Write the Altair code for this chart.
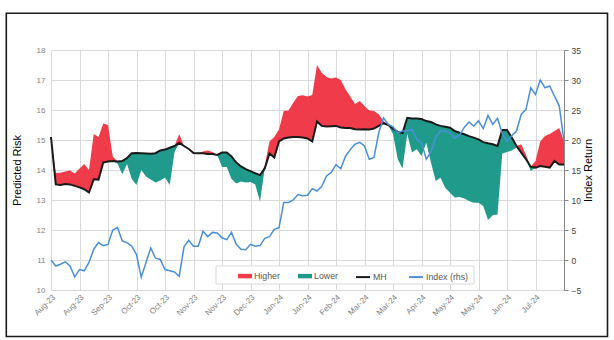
import json
import altair as alt
import pandas as pd

labels = ["Aug-23", "Aug-23", "Sep-23", "Oct-23", "Oct-23", "Nov-23", "Nov-23", "Dec-23",
          "Jan-24", "Jan-24", "Feb-24", "Mar-24", "Mar-24", "Apr-24", "May-24", "May-24",
          "Jun-24", "Jul-24"]

mh = [15.10, 13.52, 13.50, 13.53, 13.52, 13.47, 13.42, 13.36, 13.25, 13.69, 13.68, 14.25, 14.28, 14.30,
      14.28, 14.30, 14.40, 14.56, 14.57, 14.56, 14.55, 14.54, 14.56, 14.65, 14.68, 14.74, 14.80, 14.90,
      14.80, 14.70, 14.57, 14.56, 14.56, 14.53, 14.53, 14.50, 14.58, 14.58, 14.45, 14.25, 14.12, 14.03,
      13.96, 13.89, 13.83, 14.05, 14.55, 14.42, 14.95, 15.05, 15.08, 15.10, 15.10, 15.08, 15.05,
      14.95, 15.62, 15.47, 15.45, 15.46, 15.47, 15.42, 15.40, 15.40, 15.36, 15.35, 15.36, 15.35, 15.38,
      15.47, 15.56, 15.50, 15.38, 15.27, 15.23, 15.74, 15.72, 15.72, 15.70, 15.63, 15.60, 15.52,
      15.47, 15.44, 15.41, 15.30, 15.24, 15.19, 15.13, 15.08, 15.02, 14.93, 14.89, 14.86, 14.80, 15.33,
      15.33, 15.08, 14.80, 14.58, 14.36, 14.11, 14.08, 14.13, 14.11, 14.08, 14.30, 14.18, 14.18]

pred = [15.10, 13.90, 13.91, 13.95, 13.98, 13.88, 14.05, 14.20, 14.00, 15.20, 15.10, 15.55, 15.50, 14.45,
        14.22, 13.86, 14.20, 13.70, 13.50, 14.00, 13.78, 13.68, 13.58, 13.65, 13.75, 13.50, 14.60, 15.20,
        14.78, 14.70, 14.57, 14.56, 14.62, 14.65, 14.60, 14.50, 14.10, 14.10, 13.70, 13.55, 13.62, 13.58,
        13.60, 13.52, 12.95, 14.15, 14.95, 15.10, 15.35, 15.97, 15.98, 16.24, 16.47, 16.49, 16.45,
        16.50, 17.50, 17.24, 17.10, 17.05, 17.08, 17.00, 16.69, 16.45, 16.20, 16.30, 16.13, 15.98, 15.97,
        15.86, 15.63, 15.50, 15.20, 14.36, 14.05, 15.20, 14.58, 14.69, 14.47, 14.91, 14.24, 13.63,
        13.74, 13.41, 13.24, 13.08, 13.10, 13.05, 12.97, 12.91, 12.91, 12.80, 12.33, 12.49, 12.52, 14.55,
        14.60, 14.65, 14.75, 14.86, 14.50, 13.97, 14.30, 14.95, 15.13, 15.20, 15.30, 15.40, 14.95]

index_ret = [0.0, -1.0, -0.7, -0.3, -1.0, -2.8, -1.6, -1.8, -0.4, 1.8, 2.9, 2.4, 2.6, 5.0, 5.4, 3.2, 2.9,
             2.3, 0.9, -2.9, -0.4, 2.0, 0.3, 0.1, -1.6, -1.8, -2.0, -2.7,
             2.2, 3.3, 2.3, 2.3, 4.8, 3.9, 4.6, 4.5, 3.7, 3.4, 4.6, 2.6, 1.8, 1.7, 2.6, 2.3, 2.4, 3.6,
             3.9, 5.1, 5.4, 9.6, 9.6, 10.0, 10.9, 10.7, 10.8,
             11.9, 11.5, 12.3, 14.0, 14.6, 15.9, 15.2, 17.3, 18.4, 19.3, 19.6, 19.0, 16.8, 17.1, 21.2,
             23.7, 22.6, 22.2, 21.2, 21.5, 21.5, 21.8, 20.1, 19.6, 16.8, 18.0, 20.5,
             21.5, 21.5, 21.2, 20.3, 20.8, 22.1, 23.0, 22.3, 23.2, 21.9, 24.1, 22.6, 23.6, 21.1, 19.8,
             20.7, 21.5, 24.3, 25.1, 28.7, 27.6, 30.0, 28.7, 29.0, 27.3, 25.7, 19.8]

area_names = ["Higher", "Lower"]
area_colors = ["#EF3B4A", "#1F9A8B"]
line_names = ["MH", "Index (rhs)"]
line_colors = ["#1A1A1A", "#4A90D9"]

n = len(mh)
step = 6
last = n - 1

df = pd.DataFrame({"i": list(range(n)), "mh": mh, "pred": pred, "idx": index_ret})

fill_scale = alt.Scale(domain=area_names, range=area_colors)
stroke_scale = alt.Scale(domain=line_names, range=line_colors)

common_legend = dict(
    title=None, orient="none", direction="horizontal", columns=2, padding=0,
    columnPadding=18, labelOffset=2, labelFontSize=8.8, labelColor="#595959",
    symbolSize=196, symbolOpacity=1,
)
fill_legend = alt.Legend(legendX=187, legendY=219, symbolType="M-1,-0.32H1V0.32H-1Z",
                         symbolStrokeWidth=0, **common_legend)
stroke_legend = alt.Legend(legendX=304, legendY=219, symbolType="stroke",
                           symbolStrokeWidth=2, **common_legend)

label_expr = json.dumps(labels) + f"[round(datum.value/{step})] || ''"

x_enc = alt.X(
    "i:Q",
    scale=alt.Scale(domain=[0, last], nice=False, zero=False),
    axis=alt.Axis(
        values=list(range(0, n, step)), labelExpr=label_expr, labelAngle=-45,
        labelColor="#808080", labelFontSize=8, labelOverlap=False, labelFlush=False,
        domain=False, ticks=False, gridColor="#d9d9d9", labelPadding=3, title=None,
    ),
)

left_scale = alt.Scale(domain=[10, 18], nice=False, zero=False)
left_axis = alt.Axis(
    values=list(range(10, 19)), domain=False, ticks=False, labelColor="#7f7f7f",
    labelFontSize=8, labelPadding=6, gridColor="#d9d9d9", title="Predicted Risk",
    titleColor="#000000", titleFontSize=11, titleFontWeight="normal", titleX=-34, titleY=120,
    titleAngle=270, titleAlign="center", titleBaseline="middle",
)

base = alt.Chart(df)

higher = base.transform_calculate(
    hi="max(datum.pred, datum.mh)", series="'Higher'"
).mark_area(opacity=1, interpolate="linear").encode(
    x=x_enc,
    y=alt.Y("mh:Q", scale=left_scale, axis=left_axis),
    y2="hi:Q",
    fill=alt.Fill("series:N", scale=fill_scale, legend=fill_legend),
)

lower = base.transform_calculate(
    lo="min(datum.pred, datum.mh)", series="'Lower'"
).mark_area(opacity=1, interpolate="linear").encode(
    x=x_enc,
    y=alt.Y("lo:Q", scale=left_scale, axis=left_axis),
    y2="mh:Q",
    fill=alt.Fill("series:N", scale=fill_scale, legend=fill_legend),
)

mh_line = base.transform_calculate(series="'MH'").mark_line(strokeWidth=2).encode(
    x=x_enc,
    y=alt.Y("mh:Q", scale=left_scale, axis=left_axis),
    stroke=alt.Stroke("series:N", scale=stroke_scale, legend=stroke_legend),
)

left = alt.layer(higher, lower, mh_line)

idx_line = base.transform_calculate(series="'Index (rhs)'").mark_line(strokeWidth=1.5).encode(
    x=x_enc,
    y=alt.Y(
        "idx:Q",
        scale=alt.Scale(domain=[-5, 35], nice=False, zero=False),
        axis=alt.Axis(
            orient="right", values=list(range(-5, 36, 5)), grid=False, domainColor="#888888",
            tickColor="#888888", tickSize=4, labelColor="#404040", labelFontSize=8.5,
            labelPadding=3, title="Index Return", titleColor="#000000", titleFontSize=11,
            titleFontWeight="normal", titleX=24, titleY=120, titleAngle=270,
            titleAlign="center", titleBaseline="middle",
        ),
    ),
    stroke=alt.Stroke("series:N", scale=stroke_scale, legend=stroke_legend),
)

deco = pd.DataFrame({"k": [0]})
legend_box = alt.Chart(deco).mark_rect(
    fill="white", stroke="#d9d9d9", strokeWidth=1
).encode(x=alt.value(165), x2=alt.value(423), y=alt.value(216), y2=alt.value(234))

frame = alt.Chart(deco).mark_rect(
    filled=False, color="#1a1a1a", strokeWidth=1.6, opacity=1
).encode(x=alt.value(-44.7), x2=alt.value(556.5), y=alt.value(-36.7), y2=alt.value(286.5))

chart = alt.layer(left, idx_line, legend_box, frame).resolve_scale(y="independent").properties(
    width=513, height=240,
    autosize=alt.AutoSizeParams(type="none"),
    padding={"left": 51, "top": 50, "right": 50, "bottom": 50},
    background="white",
).configure(font="Liberation Sans").configure_view(strokeWidth=0)

chart.save("out.html", embed_options={"renderer": "svg", "actions": False})
